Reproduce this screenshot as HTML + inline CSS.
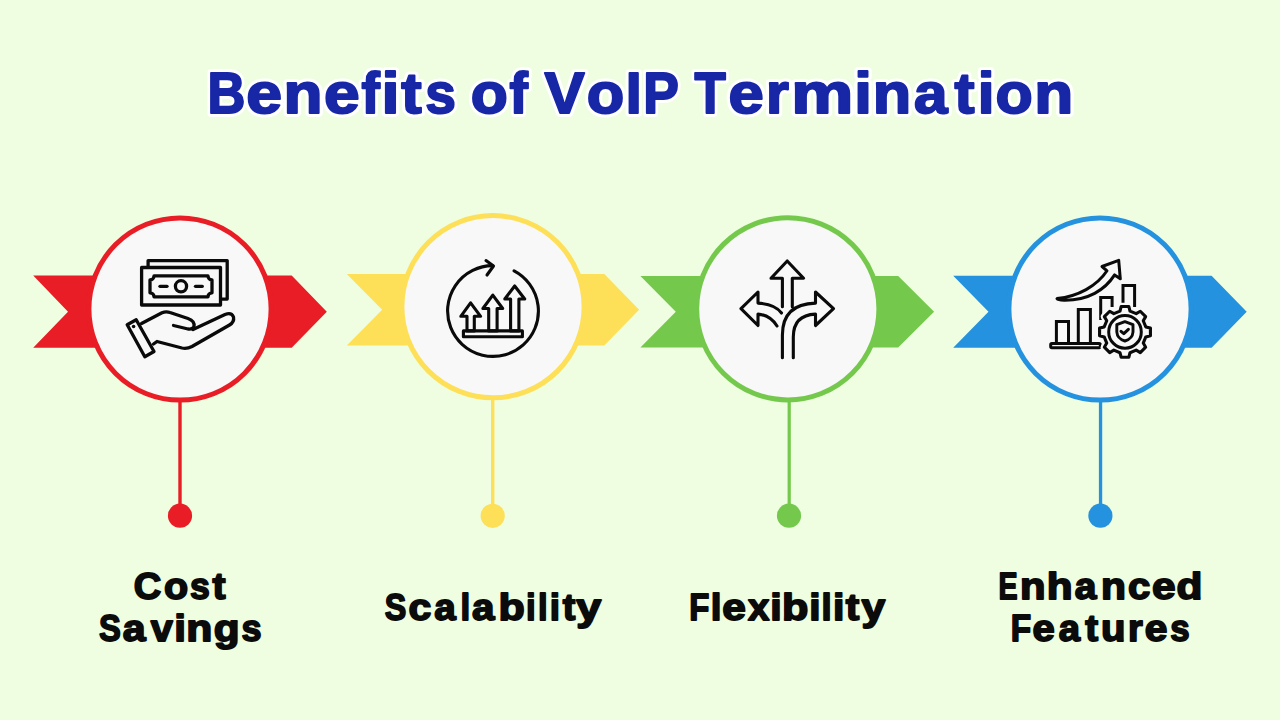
<!DOCTYPE html>
<html>
<head>
<meta charset="utf-8">
<style>
html,body{margin:0;padding:0;}
body{width:1280px;height:720px;overflow:hidden;background:#effde0;position:relative;font-family:"Liberation Sans",sans-serif;}
svg.g{position:absolute;left:0;top:0;}
</style>
</head>
<body>
<svg class="g" width="1280" height="720" viewBox="0 0 1280 720">
  <!-- ribbons -->
  <polygon fill="#e91d25" points="33.2,275.6 291.7,275.6 326.8,311.7 291.7,347.8 33.2,347.8 68.0,311.7"/>
  <polygon fill="#fedf58" points="346.8,274.0 604.3,274.0 639.1,309.8 604.3,345.5 346.8,345.5 382.2,309.8"/>
  <polygon fill="#74c94d" points="640.4,276.0 898.2,276.0 934.1,311.8 898.2,347.6 640.4,347.6 675.8,311.8"/>
  <polygon fill="#2492de" points="953.2,275.8 1211.6,275.8 1246.7,311.8 1211.6,347.8 953.2,347.8 988.5,311.8"/>
  <!-- stems -->
  <rect x="178.3" y="395" width="3.4" height="115" fill="#e91d25"/>
  <rect x="491" y="393" width="3.4" height="115" fill="#fedf58"/>
  <rect x="787.6" y="395" width="3.2" height="115" fill="#74c94d"/>
  <rect x="1098.9" y="395" width="3.3" height="115" fill="#2492de"/>
  <circle cx="180" cy="515.7" r="12.1" fill="#e91d25"/>
  <circle cx="492.7" cy="515.8" r="12.1" fill="#fedf58"/>
  <circle cx="789" cy="515.7" r="12.1" fill="#74c94d"/>
  <circle cx="1100.4" cy="515.7" r="12.1" fill="#2492de"/>
  <!-- circles -->
  <circle cx="180" cy="309" r="91.1" fill="#f8f8f8" stroke="#e91d25" stroke-width="5"/>
  <circle cx="493" cy="306.7" r="91.1" fill="#f8f8f8" stroke="#fedf58" stroke-width="5"/>
  <circle cx="787.8" cy="308.8" r="91.1" fill="#f8f8f8" stroke="#74c94d" stroke-width="5"/>
  <circle cx="1100" cy="309" r="91.1" fill="#f8f8f8" stroke="#2492de" stroke-width="5"/>

  <!-- icon 1: money hand -->
  <g fill="none" stroke="#0a0a0a" stroke-width="3.3" stroke-linejoin="round" stroke-linecap="round">
    <polyline points="148.1,266 148.1,260.6 227.2,260.6 227.2,299.1 221.5,299.1"/>
    <rect x="141.6" y="267.5" width="78.9" height="37.5"/>
    <path d="M154,275.9 L208,275.9 A4,4 0 0 0 212,279.9 L212,292.8 A4,4 0 0 0 208,296.8 L154,296.8 A4,4 0 0 0 150,292.8 L150,279.9 A4,4 0 0 0 154,275.9 Z"/>
    <circle cx="181" cy="286.3" r="5.6"/>
    <line x1="160" y1="286.3" x2="167" y2="286.3"/>
    <line x1="195.5" y1="286.3" x2="202.3" y2="286.3"/>
    <path d="M127.2,324.8 L136.2,319.8 L154,351.5 L144.8,356.8 Z"/>
    <path d="M141.5,323.5 L162,312.8 Q166,311 170,312.5 L188,318.5 Q195,321 194,326.5 Q193,329.5 188,329 L173.5,325.5"/>
    <path d="M193,329.5 L225,314.5 Q231.5,312 233.5,317 Q234.5,322 229.5,325 L192,346.5 Q187,349 182,348 L157,341.5 L153.5,344"/>
  </g>
  <circle cx="133.6" cy="326.5" r="1.8" fill="#0a0a0a"/>

  <!-- icon 2: scalability -->
  <g fill="none" stroke="#0a0a0a" stroke-width="3.1" stroke-linejoin="round" stroke-linecap="round">
    <path d="M514.1,270.8 A45.4,45.4 0 1 1 492.5,265.6"/>
    <polyline points="486,260.6 493.5,266 487,275"/>
    <rect x="463.4" y="330.9" width="59" height="5.8"/>
    <polygon points="470.6,302.8 480.6,316.3 474.3,316.3 474.3,330.9 467,330.9 467,316.3 460.8,316.3"/>
    <polygon points="492.8,295.1 502.7,308.5 497.1,308.5 497.1,330.9 488.7,330.9 488.7,308.5 482.9,308.5"/>
    <polygon points="514.7,286 524.7,299 518.9,299 518.9,330.9 510.6,330.9 510.6,299 504.8,299"/>
  </g>

  <!-- icon 3: flexibility -->
  <g fill="none" stroke="#0a0a0a" stroke-width="3.1" stroke-linejoin="round" stroke-linecap="round">
    <polyline points="782.4,306.8 782.4,278.2 771,278.2 787.2,261 803.6,278.2 792.3,278.2 792.3,306.8"/>
    <path d="M781.5,313 Q775,304 758,303.1 L758,292 L741,308.7 L758,325.5 L758,314.1 Q770,315 777,326"/>
    <path d="M782.4,357.8 L782.4,335 Q782.4,304 815.5,303.1 L815.5,292 L833.5,308.7 L815.5,325.5 L815.5,314.1 Q793.3,315 793.3,337 L793.3,357.8"/>
  </g>

  <!-- icon 4: enhanced features -->
  <g fill="none" stroke="#0a0a0a" stroke-width="3.0" stroke-linejoin="miter" stroke-linecap="butt">
    <rect x="1050.7" y="343.5" width="49.6" height="4.3" rx="1.2"/>
    <polyline points="1056.4,342 1056.4,321.6 1068.5,321.6 1068.5,342"/>
    <polyline points="1078.3,342 1078.3,309.6 1090.4,309.6 1090.4,342"/>
    <polyline points="1100.7,320 1100.7,297.6 1112.1,297.6 1112.1,307"/>
    <polyline points="1123,303 1123,285.6 1134.6,285.6 1134.6,307"/>
    <path d="M1057,298.6 C1078,296.5 1097,286 1107,270.8 L1102,266.5 L1118.7,260.3 L1120.3,278.8 L1114.6,274.9 C1105,290 1088,300.5 1064,300.2 Q1058,300 1057,298.6 Z" stroke-linejoin="round"/>
  </g>
  <path fill="#f8f8f8" stroke="#f8f8f8" stroke-width="7.5" stroke-linejoin="round" d="M1120.00,311.09 L1121.20,306.48 L1128.80,306.48 L1130.00,311.09 L1136.18,313.65 L1140.29,311.24 L1145.66,316.61 L1143.25,320.72 L1145.81,326.90 L1150.42,328.10 L1150.42,335.70 L1145.81,336.90 L1143.25,343.08 L1145.66,347.19 L1140.29,352.56 L1136.18,350.15 L1130.00,352.71 L1128.80,357.32 L1121.20,357.32 L1120.00,352.71 L1113.82,350.15 L1109.71,352.56 L1104.34,347.19 L1106.75,343.08 L1104.19,336.90 L1099.58,335.70 L1099.58,328.10 L1104.19,326.90 L1106.75,320.72 L1104.34,316.61 L1109.71,311.24 L1113.82,313.65 Z"/>
  <path fill="none" stroke="#0a0a0a" stroke-width="3.1" stroke-linejoin="round" d="M1120.00,311.09 L1121.20,306.48 L1128.80,306.48 L1130.00,311.09 L1136.18,313.65 L1140.29,311.24 L1145.66,316.61 L1143.25,320.72 L1145.81,326.90 L1150.42,328.10 L1150.42,335.70 L1145.81,336.90 L1143.25,343.08 L1145.66,347.19 L1140.29,352.56 L1136.18,350.15 L1130.00,352.71 L1128.80,357.32 L1121.20,357.32 L1120.00,352.71 L1113.82,350.15 L1109.71,352.56 L1104.34,347.19 L1106.75,343.08 L1104.19,336.90 L1099.58,335.70 L1099.58,328.10 L1104.19,326.90 L1106.75,320.72 L1104.34,316.61 L1109.71,311.24 L1113.82,313.65 Z"/>
  <g fill="none" stroke="#0a0a0a">
    <circle cx="1125" cy="331.9" r="16.3" stroke-width="3.0"/>
    <path d="M1124.9,321.6 L1133,324.6 L1133,332 Q1132.5,338.8 1124.9,341 Q1117.3,338.8 1116.8,332 L1116.8,324.6 Z" stroke-width="2.9" stroke-linejoin="round"/>
    <polyline points="1121,331.3 1123.8,333.7 1128.4,329.3" stroke-width="3" stroke-linecap="round" stroke-linejoin="round"/>
  </g>

  <!-- text -->
  <g font-family="Liberation Sans, sans-serif" font-weight="bold" stroke-linejoin="round">
    <g font-size="58.0" fill="#ffffff" stroke="#ffffff" stroke-width="8">
      <text transform="translate(207.41,112.60) scale(0.9040,1.0000)">B</text><text transform="translate(246.31,112.60) scale(1.1100,1.0000)">e</text><text transform="translate(283.47,112.60) scale(1.1008,1.0000)">n</text><text transform="translate(323.92,112.60) scale(1.1067,1.0000)">e</text><text transform="translate(361.49,112.60) scale(0.9470,1.0000)">f</text><text transform="translate(381.45,112.60) scale(1.1171,1.0000)">i</text><text transform="translate(401.13,112.60) scale(1.0568,1.0000)">t</text><text transform="translate(425.35,112.60) scale(0.9500,1.0000)">s</text><text transform="translate(470.79,112.60) scale(1.0455,1.0000)">o</text><text transform="translate(509.54,112.60) scale(0.9494,1.0000)">f</text><text transform="translate(544.53,112.60) scale(1.0387,1.0000)">V</text><text transform="translate(586.68,112.60) scale(1.0576,1.0000)">o</text><text transform="translate(625.69,112.60) scale(0.9857,1.0000)">I</text><text transform="translate(643.37,112.60) scale(0.9200,1.0000)">P</text><text transform="translate(694.44,112.60) scale(0.8836,1.0000)">T</text><text transform="translate(728.53,112.60) scale(1.0933,1.0000)">e</text><text transform="translate(765.97,112.60) scale(1.0125,1.0000)">r</text><text transform="translate(791.19,112.60) scale(1.2043,1.0000)">m</text><text transform="translate(854.22,112.60) scale(1.0927,1.0000)">i</text><text transform="translate(872.82,112.60) scale(1.0843,1.0000)">n</text><text transform="translate(914.08,112.60) scale(1.0376,1.0000)">a</text><text transform="translate(954.52,112.60) scale(1.0370,1.0000)">t</text><text transform="translate(977.73,112.60) scale(1.0390,1.0000)">i</text><text transform="translate(995.59,112.60) scale(1.0515,1.0000)">o</text><text transform="translate(1034.17,112.60) scale(1.1008,1.0000)">n</text>
    </g>
    <g font-size="58.0" fill="#1727a6" stroke="#1727a6" stroke-width="2.0">
      <text transform="translate(207.41,112.60) scale(0.9040,1.0000)">B</text><text transform="translate(246.31,112.60) scale(1.1100,1.0000)">e</text><text transform="translate(283.47,112.60) scale(1.1008,1.0000)">n</text><text transform="translate(323.92,112.60) scale(1.1067,1.0000)">e</text><text transform="translate(361.49,112.60) scale(0.9470,1.0000)">f</text><text transform="translate(381.45,112.60) scale(1.1171,1.0000)">i</text><text transform="translate(401.13,112.60) scale(1.0568,1.0000)">t</text><text transform="translate(425.35,112.60) scale(0.9500,1.0000)">s</text><text transform="translate(470.79,112.60) scale(1.0455,1.0000)">o</text><text transform="translate(509.54,112.60) scale(0.9494,1.0000)">f</text><text transform="translate(544.53,112.60) scale(1.0387,1.0000)">V</text><text transform="translate(586.68,112.60) scale(1.0576,1.0000)">o</text><text transform="translate(625.69,112.60) scale(0.9857,1.0000)">I</text><text transform="translate(643.37,112.60) scale(0.9200,1.0000)">P</text><text transform="translate(694.44,112.60) scale(0.8836,1.0000)">T</text><text transform="translate(728.53,112.60) scale(1.0933,1.0000)">e</text><text transform="translate(765.97,112.60) scale(1.0125,1.0000)">r</text><text transform="translate(791.19,112.60) scale(1.2043,1.0000)">m</text><text transform="translate(854.22,112.60) scale(1.0927,1.0000)">i</text><text transform="translate(872.82,112.60) scale(1.0843,1.0000)">n</text><text transform="translate(914.08,112.60) scale(1.0376,1.0000)">a</text><text transform="translate(954.52,112.60) scale(1.0370,1.0000)">t</text><text transform="translate(977.73,112.60) scale(1.0390,1.0000)">i</text><text transform="translate(995.59,112.60) scale(1.0515,1.0000)">o</text><text transform="translate(1034.17,112.60) scale(1.1008,1.0000)">n</text>
    </g>
    <g fill="#0b0b0b" stroke="#0b0b0b" stroke-width="1.8" font-size="38.2">
      <text transform="translate(133.80,598.81) scale(0.9981,0.9900)">C</text><text transform="translate(163.88,598.81) scale(1.0337,0.9900)">o</text><text transform="translate(189.97,598.81) scale(0.9317,0.9900)">s</text><text transform="translate(212.51,598.81) scale(1.0255,0.9900)">t</text>
      <text transform="translate(98.90,640.71) scale(0.8560,0.9900)">S</text><text transform="translate(122.83,640.71) scale(1.0742,0.9900)">a</text><text transform="translate(150.63,640.71) scale(1.0352,0.9900)">v</text><text transform="translate(174.18,640.71) scale(1.0966,0.9900)">i</text><text transform="translate(186.32,640.71) scale(1.1171,0.9900)">n</text><text transform="translate(213.85,640.71) scale(1.1059,0.9900)">g</text><text transform="translate(241.56,640.71) scale(0.9439,0.9900)">s</text>
      <text transform="translate(384.70,619.51) scale(0.8440,0.9900)">S</text><text transform="translate(408.56,619.51) scale(1.0732,0.9900)">c</text><text transform="translate(434.15,619.51) scale(1.0112,0.9900)">a</text><text transform="translate(460.41,619.51) scale(0.9103,0.9900)">l</text><text transform="translate(472.04,619.51) scale(1.0562,0.9900)">a</text><text transform="translate(498.61,619.51) scale(1.1247,0.9900)">b</text><text transform="translate(525.91,619.51) scale(0.9103,0.9900)">i</text><text transform="translate(538.12,619.51) scale(0.9034,0.9900)">l</text><text transform="translate(549.71,619.51) scale(0.9655,0.9900)">i</text><text transform="translate(562.69,619.51) scale(0.9891,0.9900)">t</text><text transform="translate(576.18,619.51) scale(1.1736,0.9900)">y</text>
      <text transform="translate(689.31,620.01) scale(0.8605,0.9900)">F</text><text transform="translate(710.74,620.01) scale(1.0069,0.9900)">l</text><text transform="translate(722.24,620.01) scale(1.1122,0.9900)">e</text><text transform="translate(748.05,620.01) scale(1.0022,0.9900)">x</text><text transform="translate(770.32,620.01) scale(1.0759,0.9900)">i</text><text transform="translate(782.11,620.01) scale(1.1294,0.9900)">b</text><text transform="translate(809.34,620.01) scale(1.0621,0.9900)">i</text><text transform="translate(821.53,620.01) scale(0.9517,0.9900)">l</text><text transform="translate(832.92,620.01) scale(1.0759,0.9900)">i</text><text transform="translate(845.73,620.01) scale(1.0618,0.9900)">t</text><text transform="translate(861.44,620.01) scale(1.1165,0.9900)">y</text>
      <text transform="translate(998.58,598.91) scale(0.7489,0.9900)">E</text><text transform="translate(1019.96,598.91) scale(1.0927,0.9900)">n</text><text transform="translate(1046.76,598.91) scale(1.1062,0.9900)">h</text><text transform="translate(1074.64,598.91) scale(1.0202,0.9900)">a</text><text transform="translate(1101.10,598.91) scale(1.0683,0.9900)">n</text><text transform="translate(1127.98,598.91) scale(1.0488,0.9900)">c</text><text transform="translate(1152.04,598.91) scale(1.1122,0.9900)">e</text><text transform="translate(1176.54,598.91) scale(1.1106,0.9900)">d</text>
      <text transform="translate(1010.69,640.61) scale(0.8744,0.9900)">F</text><text transform="translate(1032.58,640.61) scale(1.0488,0.9900)">e</text><text transform="translate(1058.65,640.61) scale(1.0022,0.9900)">a</text><text transform="translate(1085.21,640.61) scale(1.0109,0.9900)">t</text><text transform="translate(1101.09,640.61) scale(1.0488,0.9900)">u</text><text transform="translate(1127.92,640.61) scale(0.9891,0.9900)">r</text><text transform="translate(1144.87,640.61) scale(1.0683,0.9900)">e</text><text transform="translate(1170.17,640.61) scale(0.9122,0.9900)">s</text>
    </g>
  </g>
</svg>
</body>
</html>
